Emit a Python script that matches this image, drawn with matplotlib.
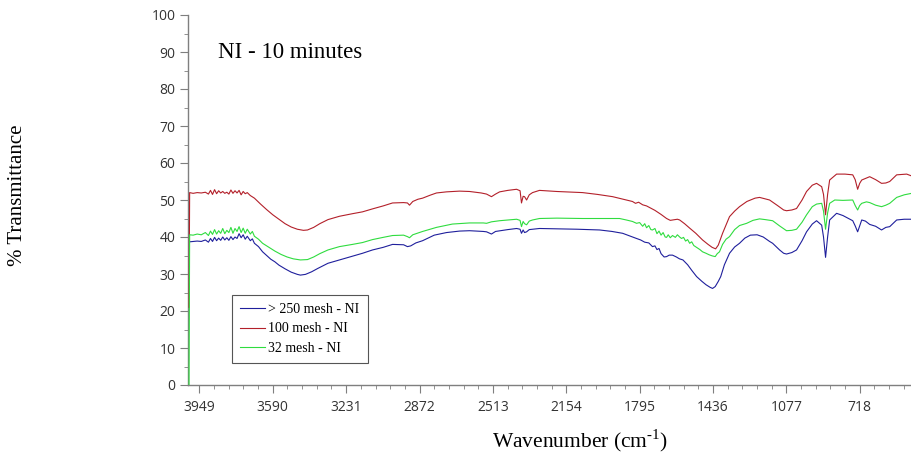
import matplotlib.pyplot as plt
from matplotlib.ticker import MultipleLocator, FixedLocator

plt.rcParams['mathtext.fontset'] = 'custom'
plt.rcParams['mathtext.rm'] = 'Liberation Serif'

# > 250 mesh - NI
blue_wn = [3997, 3980, 3960, 3940, 3920, 3905, 3895, 3885, 3875, 3865, 3855, 3845, 3835, 3825,
           3815, 3805, 3795, 3785, 3775, 3765, 3755, 3745, 3735, 3725, 3715, 3700, 3690, 3680,
           3660, 3640, 3620, 3600, 3580, 3560, 3530, 3500, 3470, 3455, 3430, 3400, 3370, 3320,
           3264, 3200, 3151, 3102, 3050, 3004, 2950, 2931, 2915, 2890, 2857, 2800, 2740, 2676,
           2627, 2560, 2544, 2520, 2500, 2440, 2397, 2380, 2373, 2365, 2358, 2348, 2335, 2285,
           2100, 1991, 1930, 1878, 1840, 1810, 1790, 1770, 1750, 1732, 1720, 1710, 1700, 1690,
           1675, 1663, 1650, 1634, 1615, 1600, 1583, 1560, 1540, 1516, 1490, 1470, 1450, 1438,
           1425, 1410, 1398, 1380, 1355, 1330, 1306, 1280, 1253, 1220, 1190, 1159, 1144, 1110,
           1090, 1076, 1050, 1027, 1000, 978, 950, 929, 904, 895, 885, 875, 865, 831, 800, 752,
           740, 728, 715, 708, 690, 669, 640, 611, 590, 571, 537, 500, 464]
blue_t = [38.7, 38.8, 38.9, 38.8, 39.2, 38.6, 39.6, 38.8, 39.9, 39.0, 39.7, 39.1, 40.0, 39.2,
          39.8, 39.1, 40.1, 39.3, 40.0, 39.6, 40.9, 39.8, 40.6, 39.4, 40.2, 39.0, 39.5, 38.3,
          37.4, 36.0, 35.0, 34.0, 33.3, 32.4, 31.4, 30.5, 29.9, 29.7, 29.9, 30.6, 31.5, 32.9,
          33.8, 34.8, 35.6, 36.5, 37.2, 38.0, 37.9, 37.4, 37.6, 38.4, 39.0, 40.5, 41.2, 41.6,
          41.7, 41.5, 41.4, 40.8, 41.5, 42.0, 42.3, 42.1, 41.0, 41.9, 41.2, 41.4, 42.0, 42.3,
          42.1, 41.9, 41.5, 41.0, 40.2, 39.6, 39.2, 38.6, 38.4, 37.4, 37.6, 36.6, 36.9, 35.5,
          34.6, 34.7, 35.1, 35.1, 34.6, 34.1, 33.8, 32.5, 31.0, 29.3, 28.0, 27.1, 26.4, 26.1,
          26.6, 28.0, 29.3, 32.5, 35.6, 37.3, 38.3, 39.7, 40.5, 40.6, 40.0, 38.8, 38.3, 36.5,
          35.6, 35.4, 35.8, 36.5, 39.0, 41.4, 43.5, 44.4, 43.2, 40.0, 34.5, 40.0, 44.6, 46.4, 45.8, 44.4,
          43.0, 41.4, 43.5, 44.6, 44.3, 43.4, 42.9, 41.9, 42.6, 42.8, 44.6, 44.8, 44.8]

# 100 mesh - NI
red_wn = [4000, 3997, 3980, 3960, 3940, 3920, 3905, 3895, 3885, 3875, 3865, 3855, 3845, 3835,
          3825, 3815, 3805, 3795, 3785, 3775, 3765, 3755, 3745, 3735, 3725, 3715, 3700, 3680,
          3650, 3620, 3590, 3560, 3530, 3500, 3470, 3440, 3420, 3390, 3360, 3320, 3264, 3200,
          3151, 3102, 3050, 3004, 2950, 2931, 2921, 2905, 2880, 2857, 2820, 2789, 2740, 2676,
          2627, 2570, 2544, 2520, 2500, 2480, 2440, 2397, 2380, 2373, 2365, 2358, 2348, 2335,
          2319, 2285, 2200, 2074, 2000, 1927, 1860, 1830, 1815, 1800, 1780, 1761, 1720, 1690,
          1663, 1645, 1634, 1610, 1599, 1575, 1550, 1520, 1487, 1460, 1440, 1423, 1410, 1389,
          1370, 1355, 1330, 1306, 1270, 1230, 1208, 1159, 1120, 1090, 1076, 1050, 1027, 1000,
          978, 950, 929, 904, 895, 885, 875, 865, 831, 790, 752, 740, 728, 718, 708, 669, 640,
          611, 590, 571, 537, 488, 464]
red_t = [21.0, 52.0, 51.8, 52.0, 51.9, 52.1, 51.6, 52.6, 51.5, 52.8, 51.7, 52.5, 51.9, 52.3,
         51.8, 52.1, 51.6, 52.7, 51.8, 52.5, 51.9, 52.6, 51.4, 52.3, 51.7, 52.0, 51.2, 50.5,
         48.9, 47.4, 46.0, 44.8, 43.6, 42.7, 42.1, 41.8, 41.9, 42.6, 43.6, 44.7, 45.6, 46.3,
         46.8, 47.6, 48.4, 49.2, 49.3, 49.2, 48.6, 49.6, 50.2, 50.5, 51.3, 51.9, 52.2, 52.4,
         52.3, 51.9, 51.6, 50.9, 51.6, 52.2, 52.6, 52.9, 52.5, 49.2, 51.0, 50.9, 50.0, 51.4,
         52.0, 52.6, 52.3, 52.0, 51.5, 50.9, 50.0, 49.6, 49.1, 49.4, 48.7, 48.4, 47.2, 46.1,
         45.0, 44.5, 44.6, 44.8, 44.6, 43.6, 42.4, 41.0, 39.2, 38.0, 37.2, 36.8, 37.8, 41.0,
         43.5, 45.5, 47.0, 48.2, 49.6, 50.5, 50.7, 50.0, 48.5, 47.3, 47.1, 47.3, 47.7, 50.0,
         52.3, 54.0, 54.5, 53.6, 51.5, 46.0, 51.5, 55.4, 57.0, 57.0, 56.8, 55.5, 52.9, 54.5,
         55.4, 56.3, 55.5, 54.5, 54.6, 55.0, 56.8, 57.0, 56.5]

# 32 mesh - NI
green_wn = [4000, 3997, 3980, 3960, 3940, 3920, 3905, 3895, 3885, 3875, 3865, 3855, 3845, 3835,
            3825, 3815, 3805, 3795, 3785, 3775, 3765, 3755, 3745, 3735, 3725, 3715, 3700, 3690,
            3680, 3660, 3640, 3620, 3600, 3580, 3550, 3520, 3490, 3455, 3420, 3390, 3360, 3320,
            3264, 3200, 3151, 3102, 3050, 3004, 2950, 2931, 2921, 2905, 2857, 2789, 2711, 2627,
            2560, 2544, 2520, 2480, 2397, 2380, 2373, 2365, 2358, 2348, 2335, 2319, 2285, 2200,
            2074, 1991, 1893, 1860, 1830, 1810, 1795, 1780, 1770, 1761, 1750, 1740, 1732, 1720,
            1710, 1700, 1690, 1680, 1670, 1663, 1655, 1645, 1634, 1620, 1610, 1599, 1590, 1580,
            1570, 1560, 1550, 1540, 1530, 1516, 1500, 1487, 1470, 1455, 1440, 1425, 1415, 1404,
            1389, 1372, 1355, 1330, 1306, 1271, 1240, 1208, 1180, 1144, 1110, 1076, 1050, 1027,
            1000, 978, 950, 929, 904, 895, 885, 875, 865, 840, 800, 752, 740, 728, 718, 708, 685,
            669, 640, 611, 590, 571, 537, 500, 464]
green_t = [0.0, 40.6, 40.5, 40.8, 40.6, 41.2, 40.4, 41.6, 40.7, 42.0, 40.8, 41.7, 41.0, 42.3,
           40.9, 41.8, 41.2, 42.6, 41.0, 42.3, 41.5, 42.8, 41.2, 42.4, 41.0, 42.1, 40.8, 41.5,
           40.2, 39.4, 38.3, 37.6, 36.9, 36.2, 35.3, 34.6, 34.1, 33.8, 33.9, 34.6, 35.5, 36.5,
           37.4, 38.0, 38.5, 39.3, 39.9, 40.4, 40.5, 40.1, 39.8, 40.6, 41.5, 42.6, 43.5, 43.8,
           43.8, 43.7, 44.1, 44.4, 44.8, 44.5, 42.8, 44.2, 43.6, 43.3, 44.3, 44.6, 45.0, 45.1,
           45.0, 45.0, 45.0, 44.6, 44.2, 43.7, 43.9, 42.9, 43.6, 42.5, 43.1, 42.0, 41.9, 42.3,
           40.9, 41.6, 40.5, 41.2, 40.0, 39.9, 40.6, 39.8, 40.4, 39.9, 40.6, 40.0, 39.6, 39.9,
           38.9, 39.3, 38.3, 38.7, 37.7, 37.2, 36.6, 36.0, 35.6, 35.2, 34.9, 34.7, 35.5, 36.0,
           38.0, 39.4, 40.1, 42.0, 43.1, 43.7, 44.5, 44.9, 44.7, 44.4, 43.0, 41.7, 41.8, 42.1,
           44.0, 46.0, 48.2, 48.9, 49.1, 47.0, 42.1, 46.5, 49.1, 50.0, 49.9, 50.0, 48.5, 47.3,
           48.5, 49.1, 49.5, 49.3, 48.6, 48.2, 48.6, 49.1, 50.7, 51.4, 51.8]

x_ticks = [3949, 3590, 3231, 2872, 2513, 2154, 1795, 1436, 1077, 718]

fig = plt.figure(figsize=(9.12, 4.58), dpi=100)
ax = fig.add_axes([188 / 912, 1 - 385 / 458, 1 - 188 / 912, 370 / 458])

ax.plot(blue_wn, blue_t, color='#1f1f9c', lw=0.8, label='> 250 mesh - NI', zorder=3)
ax.plot(red_wn, red_t, color='#b3202a', lw=0.8, label='100 mesh - NI', zorder=3)
ax.plot(green_wn, green_t, color='#2fdc3f', lw=0.8, label='32 mesh - NI', zorder=3)

ax.set_xlim(4005, 462)
ax.set_ylim(0, 100)

ax.xaxis.set_major_locator(FixedLocator(x_ticks))
minor_x = [3949 - 71.8 * k for k in range(0, 50) if 3949 - 71.8 * k > 462 and k % 5 != 0]
ax.xaxis.set_minor_locator(FixedLocator(minor_x))
ax.set_xticklabels([str(t) for t in x_ticks])
ax.yaxis.set_major_locator(MultipleLocator(10))
ax.yaxis.set_minor_locator(MultipleLocator(5))

for side in ['top', 'right']:
    ax.spines[side].set_visible(False)
for side in ['left', 'bottom']:
    ax.spines[side].set_color('#7f7f7f')
    ax.spines[side].set_linewidth(1.0)

ax.tick_params(which='major', length=6, color='#7f7f7f', labelsize=10, labelcolor='#333333')
ax.tick_params(which='minor', length=3, color='#7f7f7f')
ax.tick_params(axis='x', which='major', pad=5)
ax.tick_params(axis='y', which='major', pad=3)
for lab in ax.get_xticklabels() + ax.get_yticklabels():
    lab.set_fontfamily('Open Sans')

fig.text(218 / 912, 1 - 52 / 458, 'NI - 10 minutes', family='Liberation Serif',
         fontsize=16.5, va='center', ha='left')
fig.text(18 / 912, 1 - 195 / 458, '% Transmittance', family='Liberation Serif',
         fontsize=15, rotation=90, va='center', ha='center')
fig.text(580 / 912, 1 - 441 / 458, 'Wavenumber (cm$^{\\mathregular{\u20101}}$)',
         family='Liberation Serif', fontsize=15.5, va='center', ha='center')

leg = ax.legend(loc='lower left', bbox_to_anchor=(44 / 724, 22 / 370), borderaxespad=0,
                prop={'family': 'Liberation Serif', 'size': 10}, fancybox=False,
                framealpha=1, edgecolor='#555555', handlelength=1.8, handletextpad=0.2,
                labelspacing=0.45, borderpad=0.6)
leg.get_frame().set_linewidth(0.8)

fig.savefig('out.png', dpi=100)
